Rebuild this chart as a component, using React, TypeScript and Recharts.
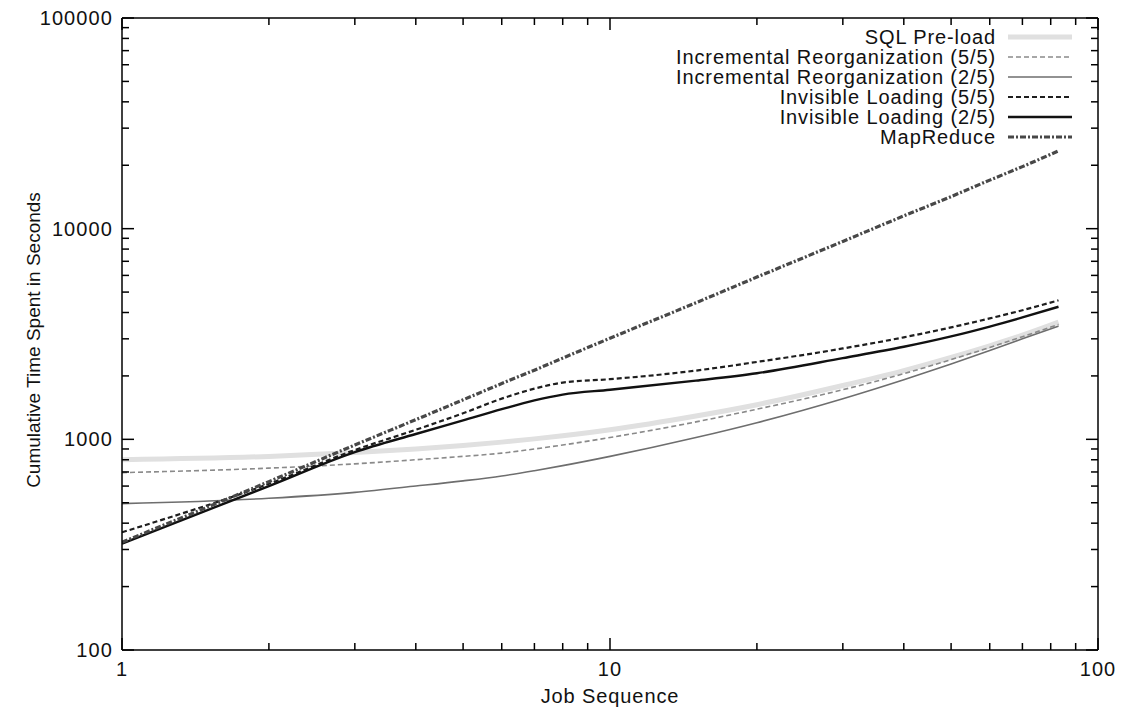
import { LineChart, Line, XAxis, YAxis, Legend } from 'recharts';

// job index (log x axis)
const jobs = [1, 2, 3, 4, 5, 6, 7, 8, 10, 15, 20, 30, 40, 50, 60, 70, 83];

// cumulative seconds
const sqlPreload = [800, 830, 865, 900, 935, 970, 1005, 1040, 1110, 1290, 1460, 1800, 2120, 2450, 2780, 3120, 3600];
const incReorg55 = [695, 730, 765, 800, 830, 860, 900, 940, 1020, 1210, 1390, 1720, 2050, 2390, 2730, 3070, 3510];
const incReorg25 = [495, 525, 560, 600, 635, 670, 710, 750, 830, 1020, 1200, 1560, 1920, 2280, 2640, 3000, 3450];
const invLoad55 = [362, 615, 890, 1110, 1330, 1560, 1740, 1860, 1930, 2120, 2330, 2700, 3050, 3400, 3750, 4100, 4570];
const invLoad25 = [320, 600, 870, 1060, 1230, 1390, 1530, 1630, 1720, 1900, 2060, 2430, 2750, 3080, 3430, 3790, 4260];
const mapReduce = [325, 630, 940, 1240, 1540, 1840, 2130, 2430, 3020, 4450, 5890, 8700, 11500, 14200, 17000, 19700, 23400];

const xTicks = [1, 2, 3, 4, 5, 6, 7, 8, 9, 10, 20, 30, 40, 50, 60, 70, 80, 90, 100];
const yTicks = [
  100, 200, 300, 400, 500, 600, 700, 800, 900,
  1000, 2000, 3000, 4000, 5000, 6000, 7000, 8000, 9000,
  10000, 20000, 30000, 40000, 50000, 60000, 70000, 80000, 90000,
  100000,
];

const FONT = '"Liberation Sans", Arial, Helvetica, sans-serif';

interface SeriesDef {
  key: string;
  name: string;
  values: number[];
  stroke: string;
  width: number;
  dash?: string;
}

const series: SeriesDef[] = [
  { key: 'sql', name: 'SQL Pre-load', values: sqlPreload, stroke: '#e0e0e0', width: 5 },
  { key: 'ir55', name: 'Incremental Reorganization (5/5)', values: incReorg55, stroke: '#8a8a8a', width: 1.6, dash: '5 3' },
  { key: 'ir25', name: 'Incremental Reorganization (2/5)', values: incReorg25, stroke: '#6e6e6e', width: 1.6 },
  { key: 'il55', name: 'Invisible Loading (5/5)', values: invLoad55, stroke: '#1e1e1e', width: 2.2, dash: '5 3' },
  { key: 'il25', name: 'Invisible Loading (2/5)', values: invLoad25, stroke: '#111111', width: 2.4 },
  { key: 'mr', name: 'MapReduce', values: mapReduce, stroke: '#484848', width: 3.2, dash: '6 2 2 2' },
];

const data = jobs.map((job, i) => {
  const row: Record<string, number> = { job };
  series.forEach((s) => {
    row[s.key] = s.values[i];
  });
  return row;
});

function isDecade(v: number) {
  const l = Math.log10(v);
  return Math.abs(l - Math.round(l)) < 1e-9;
}

const MAJOR = 12;
const MINOR = 7;
const tickStroke = { stroke: '#000', strokeWidth: 1.5 };
const labelStyle = { fontFamily: FONT, fontSize: 20, letterSpacing: 1.1, fill: '#111' };

function LeftTick({ x, y, payload }: any) {
  const major = isDecade(payload.value);
  return (
    <g>
      <line x1={x} x2={x + (major ? MAJOR : MINOR)} y1={y} y2={y} {...tickStroke} />
      {major && (
        <text x={x - 9} y={y} dy={7} textAnchor="end" {...labelStyle}>
          {payload.value}
        </text>
      )}
    </g>
  );
}

function RightTick({ x, y, payload }: any) {
  const major = isDecade(payload.value);
  return <line x1={x} x2={x - (major ? MAJOR : MINOR)} y1={y} y2={y} {...tickStroke} />;
}

function BottomTick({ x, y, payload }: any) {
  const major = isDecade(payload.value);
  return (
    <g>
      <line x1={x} x2={x} y1={y} y2={y - (major ? MAJOR : MINOR)} {...tickStroke} />
      {major && (
        <text x={x} y={y + 26} textAnchor="middle" {...labelStyle}>
          {payload.value}
        </text>
      )}
    </g>
  );
}

function TopTick({ x, y, payload }: any) {
  const major = isDecade(payload.value);
  return <line x1={x} x2={x} y1={y} y2={y + (major ? MAJOR : MINOR)} {...tickStroke} />;
}

function ChartLegend() {
  return (
    <div style={{ fontFamily: FONT, fontSize: 20, letterSpacing: 0.9, color: '#111' }}>
      {series.map((s) => (
        <div
          key={s.key}
          style={{ display: 'flex', justifyContent: 'flex-end', alignItems: 'center', height: 20 }}
        >
          <span style={{ lineHeight: '20px', whiteSpace: 'nowrap' }}>{s.name}</span>
          <svg width={64} height={20} style={{ marginLeft: 12, display: 'block' }}>
            <line
              x1={0}
              x2={64}
              y1={10}
              y2={10}
              stroke={s.stroke}
              strokeWidth={s.width}
              strokeDasharray={s.dash}
            />
          </svg>
        </div>
      ))}
    </div>
  );
}

const axisLine = { stroke: '#000', strokeWidth: 1.5 };

export default function App() {
  return (
    <div style={{ position: 'absolute', left: 0, top: 0, background: '#fff' }}>
      <LineChart
        width={1143}
        height={711}
        data={data}
        margin={{ top: 17, right: 44, bottom: 0, left: 0 }}
      >
        <XAxis
          xAxisId="b"
          dataKey="job"
          type="number"
          scale="log"
          domain={[1, 100]}
          ticks={xTicks}
          interval={0}
          allowDataOverflow
          height={61}
          tickSize={0}
          tickMargin={0}
          axisLine={axisLine}
          tick={(p: any) => <BottomTick {...p} />}
          label={{
            content: (p: any) => {
              const vb = p.viewBox;
              return (
                <text
                  x={vb.x + vb.width / 2}
                  y={vb.y + 53}
                  textAnchor="middle"
                  {...labelStyle}
                  letterSpacing={0.9}
                >
                  Job Sequence
                </text>
              );
            },
          }}
        />
        <XAxis
          xAxisId="t"
          orientation="top"
          dataKey="job"
          type="number"
          scale="log"
          domain={[1, 100]}
          ticks={xTicks}
          interval={0}
          allowDataOverflow
          height={1}
          tickSize={0}
          tickMargin={0}
          axisLine={axisLine}
          tick={(p: any) => <TopTick {...p} />}
        />
        <YAxis
          yAxisId="l"
          type="number"
          scale="log"
          domain={[100, 100000]}
          ticks={yTicks}
          interval={0}
          allowDataOverflow
          width={122}
          tickSize={0}
          tickMargin={0}
          axisLine={axisLine}
          tick={(p: any) => <LeftTick {...p} />}
          label={{
            content: (p: any) => {
              const vb = p.viewBox;
              const cx = vb.x + 33;
              const cy = vb.y + vb.height / 2 + 6;
              return (
                <text
                  x={cx}
                  y={cy}
                  transform={`rotate(-90 ${cx} ${cy})`}
                  textAnchor="middle"
                  dominantBaseline="central"
                  fontFamily={FONT}
                  fontSize={19}
                  fill="#111"
                >
                  Cumulative Time Spent in Seconds
                </text>
              );
            },
          }}
        />
        <YAxis
          yAxisId="r"
          orientation="right"
          type="number"
          scale="log"
          domain={[100, 100000]}
          ticks={yTicks}
          interval={0}
          allowDataOverflow
          width={1}
          tickSize={0}
          tickMargin={0}
          axisLine={axisLine}
          tick={(p: any) => <RightTick {...p} />}
        />
        <Legend
          verticalAlign="middle"
          align="center"
          content={() => <ChartLegend />}
          wrapperStyle={{ position: 'absolute', top: 27, left: 572, width: 500, height: 120 }}
        />
        {series.map((s) => (
          <Line
            key={s.key}
            xAxisId="b"
            yAxisId="l"
            type="monotone"
            dataKey={s.key}
            name={s.name}
            stroke={s.stroke}
            strokeWidth={s.width}
            strokeDasharray={s.dash}
            dot={false}
            activeDot={false}
            isAnimationActive={false}
          />
        ))}
      </LineChart>
    </div>
  );
}
